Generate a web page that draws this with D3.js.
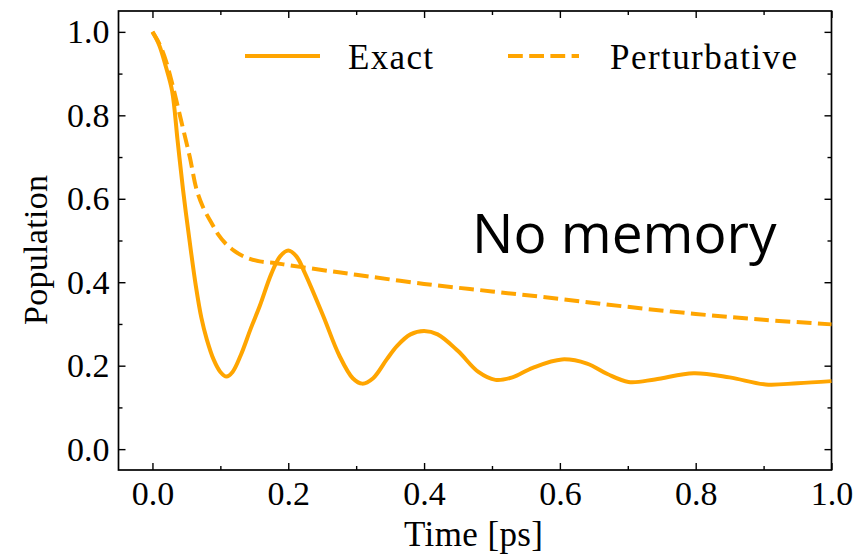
<!DOCTYPE html>
<html>
<head>
<meta charset="utf-8">
<script src="https://cdn.jsdelivr.net/npm/d3@7"></script>
<style>
  body { margin: 0; background: #fff; }
</style>
</head>
<body>
<div id="chart-area"></div>
<script>
// data
var exactTime = [0, 0.01, 0.02, 0.029, 0.037, 0.045, 0.055, 0.064, 0.072, 0.08, 0.09, 0.1, 0.109,
  0.118, 0.13, 0.145, 0.158, 0.175, 0.188, 0.2, 0.212, 0.225, 0.2515, 0.275, 0.295, 0.309,
  0.325, 0.345, 0.36, 0.38, 0.4, 0.42, 0.45, 0.48, 0.505, 0.53, 0.56, 0.603, 0.64, 0.67,
  0.701, 0.74, 0.797, 0.85, 0.903, 0.95, 1.0];
var exactPop = [1.0, 0.968, 0.915, 0.858, 0.74, 0.622, 0.495, 0.39, 0.315, 0.263, 0.215, 0.185, 0.174,
  0.185, 0.225, 0.29, 0.343, 0.42, 0.462, 0.476, 0.462, 0.42, 0.319, 0.225, 0.17, 0.157,
  0.17, 0.215, 0.247, 0.275, 0.283, 0.275, 0.235, 0.185, 0.166, 0.172, 0.195, 0.215, 0.205, 0.18,
  0.161, 0.167, 0.182, 0.172, 0.155, 0.158, 0.163];

var pertTime = [0, 0.01, 0.02, 0.03, 0.043, 0.055, 0.065, 0.075, 0.087, 0.097, 0.107, 0.12, 0.134,
  0.158, 0.18, 0.2, 0.26, 0.3, 0.4, 0.5, 0.6, 0.7, 0.8, 0.9, 1.0];
var pertPop = [1.0, 0.972, 0.93, 0.87, 0.782, 0.7, 0.622, 0.578, 0.542, 0.514, 0.494, 0.476, 0.462,
  0.45, 0.446, 0.441, 0.427, 0.418, 0.396, 0.378, 0.36, 0.341, 0.324, 0.31, 0.299];

var seriesNames = ["Exact", "Perturbative"];
var xMajor = [0, 0.2, 0.4, 0.6, 0.8, 1.0];
var xMinor = [0.1, 0.3, 0.5, 0.7, 0.9];
var yMajor = [0, 0.2, 0.4, 0.6, 0.8, 1.0];
var yMinor = [0.1, 0.3, 0.5, 0.7, 0.9];
var annotation = "No memory";

var W = 859, H = 557;
var plotL = 118.5, plotR = 831.5, plotT = 11, plotB = 470;
var orange = "#ffa500";
var serif = "'Liberation Serif', 'DejaVu Serif', serif";

var svg = d3.select("#chart-area")
  .append("svg")
    .attr("width", W)
    .attr("height", H);

var x = d3.scaleLinear().domain([-0.05, 1.0]).range([plotL, plotR]);
var y = d3.scaleLinear().domain([-0.05, 1.05]).range([plotB, plotT]);
var fmt = d3.format(".1f");

// ticks point inward on all four sides
function tickAxis(axis, pos, vals, size, labels) {
  var g = svg.append("g")
    .attr("transform", pos)
    .call(axis.tickValues(vals).tickSizeInner(-size).tickSizeOuter(0)
      .tickFormat(labels ? fmt : ""));
  g.select(".domain").remove();
  g.selectAll("line").attr("stroke", "#000").attr("stroke-width", 1.4);
  return g;
}

tickAxis(d3.axisBottom(x).tickPadding(11), "translate(0," + plotB + ")", xMajor, 7, true);
tickAxis(d3.axisBottom(x), "translate(0," + plotB + ")", xMinor, 4, false);
tickAxis(d3.axisTop(x), "translate(0," + plotT + ")", xMajor, 7, false);
tickAxis(d3.axisTop(x), "translate(0," + plotT + ")", xMinor, 4, false);
tickAxis(d3.axisLeft(y).tickPadding(9), "translate(" + plotL + ",0)", yMajor, 7, true);
tickAxis(d3.axisLeft(y), "translate(" + plotL + ",0)", yMinor, 4, false);
tickAxis(d3.axisRight(y), "translate(" + plotR + ",0)", yMajor, 7, false);
tickAxis(d3.axisRight(y), "translate(" + plotR + ",0)", yMinor, 4, false);

svg.selectAll(".tick text")
  .style("font-family", serif)
  .style("font-size", "34px")
  .attr("fill", "#000");

// frame
svg.append("rect")
  .attr("x", plotL)
  .attr("y", plotT)
  .attr("width", plotR - plotL)
  .attr("height", plotB - plotT)
  .attr("fill", "none")
  .attr("stroke", "#000")
  .attr("stroke-width", 1.7);

// lines
var line = d3.line()
  .x(function(d){ return x(d[0]); })
  .y(function(d){ return y(d[1]); })
  .curve(d3.curveCatmullRom.alpha(0.5));

var exactData = exactTime.map(function(t, i){ return [t, exactPop[i]]; });
var pertData = pertTime.map(function(t, i){ return [t, pertPop[i]]; });

svg.append("path")
  .datum(pertData)
  .attr("d", line)
  .attr("fill", "none")
  .attr("stroke", orange)
  .attr("stroke-width", 4)
  .attr("stroke-dasharray", "14.8,6.4");

svg.append("path")
  .datum(exactData)
  .attr("d", line)
  .attr("fill", "none")
  .attr("stroke", orange)
  .attr("stroke-width", 4)
  .attr("stroke-linejoin", "round");

// legend
var legend = svg.append("g");
legend.append("line")
  .attr("x1", 245).attr("x2", 320)
  .attr("y1", 56).attr("y2", 56)
  .attr("stroke", orange).attr("stroke-width", 4);
legend.append("text")
  .attr("x", 348).attr("y", 69)
  .attr("textLength", 85)
  .style("font-family", serif)
  .style("font-size", "35px")
  .text(seriesNames[0]);
legend.append("line")
  .attr("x1", 508).attr("x2", 579)
  .attr("y1", 56).attr("y2", 56)
  .attr("stroke", orange).attr("stroke-width", 4)
  .attr("stroke-dasharray", "14.8,6.4");
legend.append("text")
  .attr("x", 610).attr("y", 69)
  .attr("textLength", 187)
  .style("font-family", serif)
  .style("font-size", "35px")
  .text(seriesNames[1]);

// annotation
svg.append("text")
  .attr("x", 472)
  .attr("y", 253)
  .style("font-family", "'Open Sans', 'Noto Sans', sans-serif")
  .style("font-size", "55px")
  .attr("fill", "#000")
  .text(annotation);

// axis labels
svg.append("text")
  .attr("x", 473.5)
  .attr("y", 546)
  .attr("text-anchor", "middle")
  .attr("textLength", 139)
  .style("font-family", serif)
  .style("font-size", "35px")
  .text("Time [ps]");

svg.append("text")
  .attr("transform", "rotate(-90)")
  .attr("x", -250)
  .attr("y", 47)
  .attr("text-anchor", "middle")
  .attr("textLength", 150)
  .style("font-family", serif)
  .style("font-size", "34px")
  .text("Population");
</script>
</body>
</html>
